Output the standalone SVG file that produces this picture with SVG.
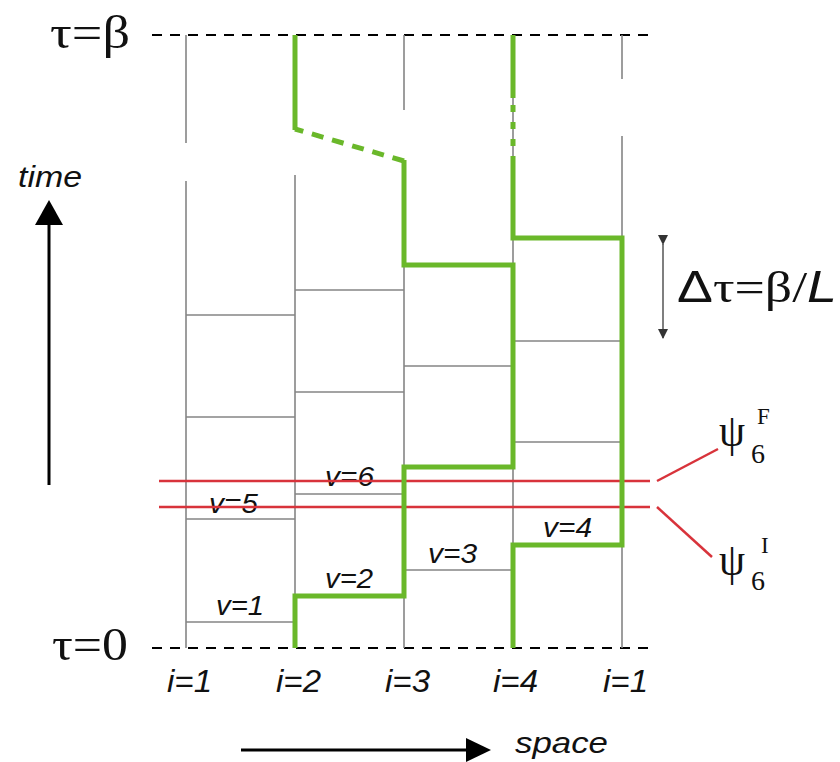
<svg xmlns="http://www.w3.org/2000/svg" width="840" height="762" viewBox="0 0 840 762">
<style>
.grid{stroke:#858585;stroke-width:1.6;fill:none}
.dash{stroke:#000;stroke-width:2.2;stroke-dasharray:10 8;fill:none}
.wl{stroke:#6ab82a;stroke-width:5;fill:none;stroke-linejoin:miter;stroke-linecap:butt}
.wld{stroke:#6ab82a;stroke-width:5;fill:none;stroke-dasharray:12 9}
.red{stroke:#d8333b;stroke-width:2.5;fill:none}
.ax{stroke:#000;stroke-width:3;fill:none}
.lbl{font-family:"Liberation Sans",Arial,sans-serif;font-style:italic;fill:#111}
.ser{font-family:"Liberation Serif","Times New Roman",serif;fill:#111}
</style>
<defs>
<marker id="ah" markerWidth="10" markerHeight="10" refX="9" refY="5" orient="auto" markerUnits="userSpaceOnUse" viewBox="0 0 10 10">
<path d="M0,0 L10,5 L0,10 Z" fill="#333"/>
</marker>
</defs>
<rect width="840" height="762" fill="#fff"/>

<g id="boundaries">
<line class="dash" x1="152" y1="35" x2="652" y2="35"/>
<line class="dash" x1="152" y1="648" x2="652" y2="648"/>
<text class="ser" x="50" y="48" font-size="46" textLength="80" lengthAdjust="spacingAndGlyphs">τ=β</text>
<text class="ser" x="52" y="660" font-size="47" textLength="76" lengthAdjust="spacingAndGlyphs">τ=0</text>
</g>

<g id="grid">
<path class="grid" d="M186,35V143 M186,181V648 M295,175V648 M404,35V110 M404,160V648 M513,35V648 M622,35V79 M622,136V648"/>
<path class="grid" d="M186,315H295 M186,417H295 M186,519H295 M186,622H295 M295,290H404 M295,392H404 M295,494H404 M404,366H513 M404,570H513 M513,341H622 M513,442H622"/>
</g>

<g id="vlabels">
<text class="lbl" x="216" y="615" font-size="27" textLength="48" lengthAdjust="spacingAndGlyphs">v=1</text>
<text class="lbl" x="325" y="588" font-size="27" textLength="48" lengthAdjust="spacingAndGlyphs">v=2</text>
<text class="lbl" x="428" y="563" font-size="27" textLength="49" lengthAdjust="spacingAndGlyphs">v=3</text>
<text class="lbl" x="543" y="537" font-size="27" textLength="49" lengthAdjust="spacingAndGlyphs">v=4</text>
<text class="lbl" x="209" y="513" font-size="27" textLength="49" lengthAdjust="spacingAndGlyphs">v=5</text>
<text class="lbl" x="325" y="486" font-size="27" textLength="49" lengthAdjust="spacingAndGlyphs">v=6</text>
</g>

<g id="psi-lines">
<line class="red" x1="159" y1="481" x2="650" y2="481"/>
<line class="red" x1="159" y1="507" x2="650" y2="507"/>
<line class="red" x1="657" y1="481" x2="718" y2="449"/>
<line class="red" x1="657" y1="507" x2="712" y2="557"/>
</g>

<g id="worldline-a">
<path class="wl" d="M295,648 V596 H404 V467 H513 V265 H404 V160"/>
<line class="wld" x1="404" y1="161" x2="295" y2="129"/>
<path class="wl" d="M295,130 V35"/>
</g>

<g id="worldline-b">
<path class="wl" d="M513,648 V545 H622 V238 H513 V156"/>
<path class="wl" d="M513,98 V35 M513,105 V112 M513,122 V129 M513,139 V146"/>
</g>

<g id="psiF">
<text class="ser" x="719" y="446" font-size="46" textLength="26" lengthAdjust="spacingAndGlyphs">ψ</text>
<text class="ser" x="751" y="463" font-size="28">6</text>
<text class="ser" x="757" y="424" font-size="23">F</text>
</g>
<g id="psiI">
<text class="ser" x="719" y="575" font-size="46" textLength="26" lengthAdjust="spacingAndGlyphs">ψ</text>
<text class="ser" x="751" y="590" font-size="28">6</text>
<text class="ser" x="761" y="553" font-size="23">I</text>
</g>

<g id="dtau">
<line x1="663" y1="244" x2="663" y2="338" stroke="#555" stroke-width="1.5" marker-start="url(#ah)" marker-end="url(#ah)"/>
<text x="677" y="302" font-size="44" textLength="160" lengthAdjust="spacingAndGlyphs" fill="#111"><tspan font-family="Liberation Sans,Arial,sans-serif">Δ</tspan><tspan font-family="Liberation Serif,serif">τ=β/</tspan><tspan font-family="Liberation Sans,Arial,sans-serif" font-style="italic">L</tspan></text>
</g>

<g id="time-axis">
<line class="ax" x1="49" y1="485" x2="49" y2="220"/>
<path d="M49,200 L63,225 L35,225 Z" fill="#000"/>
<text class="lbl" x="18" y="187" font-size="29" textLength="64" lengthAdjust="spacingAndGlyphs">time</text>
</g>

<g id="space-axis">
<line class="ax" x1="241" y1="750" x2="470" y2="750"/>
<path d="M491,750 L466,738 L466,762 Z" fill="#000"/>
<text class="lbl" x="515" y="753" font-size="30" textLength="93" lengthAdjust="spacingAndGlyphs">space</text>
</g>

<g id="sites">
<text class="lbl" x="167" y="692" font-size="31" textLength="45" lengthAdjust="spacingAndGlyphs">i=1</text>
<text class="lbl" x="276" y="692" font-size="31" textLength="45" lengthAdjust="spacingAndGlyphs">i=2</text>
<text class="lbl" x="385" y="692" font-size="31" textLength="45" lengthAdjust="spacingAndGlyphs">i=3</text>
<text class="lbl" x="493" y="692" font-size="31" textLength="45" lengthAdjust="spacingAndGlyphs">i=4</text>
<text class="lbl" x="603" y="692" font-size="31" textLength="45" lengthAdjust="spacingAndGlyphs">i=1</text>
</g>
</svg>
